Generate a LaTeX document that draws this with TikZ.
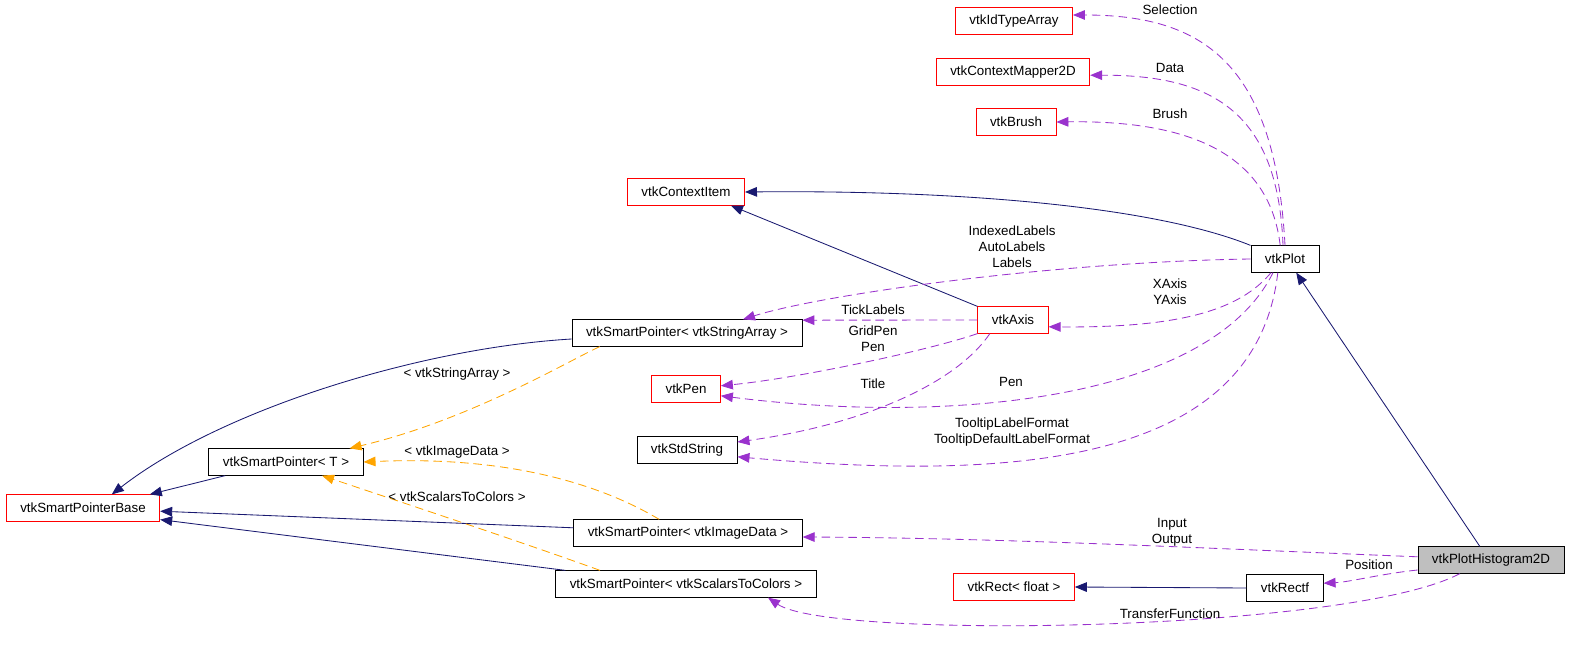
\documentclass[tikz,border=0pt]{standalone}
\usepackage{fontspec}
\setmainfont{Liberation Sans}
\usetikzlibrary{arrows.meta,
	calc}

\definecolor{inhblue}{HTML}{191970}
\definecolor{usepurple}{HTML}{9A32CD}
\definecolor{tmplorange}{HTML}{FFA500}

\begin{document}
\begin{tikzpicture}[x=0.025cm, y=-0.025cm,
	every node/.style={font=\fontsize{9.5}{11.4}\selectfont},
	cls/.style={draw=black, fill=white, line width=0.6pt, inner xsep=0.35cm, minimum height=0.66cm},
	undoc/.style={cls, draw=red},
	current/.style={cls, fill=gray!50},
	lbl/.style={align=center, inner sep=0pt},
	inherit/.style={draw=inhblue, line width=0.6pt, -{Triangle[length=0.3cm,width=0.24cm]}},
	usage/.style={draw=usepurple, line width=0.6pt, dash pattern=on 6pt off 3.5pt, -{Triangle[length=0.3cm,width=0.24cm,fill=usepurple]}},
	templ/.style={draw=tmplorange, line width=0.6pt, dash pattern=on 6pt off 3.5pt, -{Triangle[length=0.3cm,width=0.24cm,fill=tmplorange]}}]
	\useasboundingbox (0,0) rectangle (1571,668);
	% classes
	\node[undoc] (idtype) at (1014,21) {vtkIdTypeArray};
	\node[undoc] (mapper) at (1013,72) {vtkContextMapper2D};
	\node[undoc] (brush) at (1016,122) {vtkBrush};
	\node[undoc] (ctxitem) at (686,192) {vtkContextItem};
	\node[cls] (plot) at (1285,259) {vtkPlot};
	\node[cls] (spstr) at (687,333) {vtkSmartPointer< vtkStringArray >};
	\node[undoc] (axis) at (1013,320) {vtkAxis};
	\node[undoc] (pen) at (686,389) {vtkPen};
	\node[cls] (stdstr) at (687,450) {vtkStdString};
	\node[cls] (spT) at (286,462) {vtkSmartPointer< T >};
	\node[undoc] (spbase) at (83,508) {vtkSmartPointerBase};
	\node[cls] (spimg) at (688,533) {vtkSmartPointer< vtkImageData >};
	\node[cls] (spsc) at (686,584) {vtkSmartPointer< vtkScalarsToColors >};
	\node[undoc] (rectfloat) at (1014,587) {vtkRect< float >};
	\node[cls] (rectf) at (1285,588) {vtkRectf};
	\node[current] (hist) at (1491,560) {vtkPlotHistogram2D};
	% inheritance
	\draw[inherit] (plot.north west) .. controls (1150,205) and (950,190) .. (ctxitem.east);
	\draw[inherit] (axis.north west) -- ([xshift=-0.35cm]ctxitem.south east);
	\draw[inherit] ([xshift=-0.28cm]hist.north) -- ([xshift=0.28cm]plot.south);
	\draw[inherit] (rectf.west) -- (rectfloat.east);
	\draw[inherit] ([yshift=-0.15cm]spstr.west) .. controls (420,348) and (220,410) .. ([xshift=0.72cm]spbase.north);
	\draw[inherit] ([xshift=-1.52cm]spT.south) -- ([xshift=1.67cm]spbase.north);
	\draw[inherit] ([yshift=0.13cm]spimg.west) -- ([yshift=-0.08cm]spbase.east);
	\draw[inherit] ([xshift=0.25cm]spsc.north west) -- ([yshift=0.05cm]spbase.south east);
	% template instances
	\draw[templ] ([xshift=-2.18cm]spstr.south) .. controls (570,360) and (470,420) .. ([xshift=-0.35cm]spT.north east);
	\draw[templ] ([xshift=-0.72cm]spimg.north) .. controls (610,490) and (520,455) .. (spT.east);
	\draw[templ] ([xshift=-2.15cm]spsc.north) .. controls (530,545) and (410,505) .. ([xshift=0.9cm]spT.south);
	\node[lbl] (lstr) at (457,374) {< vtkStringArray >};
	\node[lbl] (limg) at (457,452) {< vtkImageData >};
	\node[lbl] (lsc) at (457,497) {< vtkScalarsToColors >};
	% usage
	\draw[usage] (plot.north) .. controls (1275,60) and (1200,15) .. ([yshift=0.15cm]idtype.east);
	\draw[usage] ([xshift=-0.05cm]plot.north) .. controls (1278,110) and (1210,75) .. ([yshift=-0.08cm]mapper.east);
	\draw[usage] ([xshift=-0.12cm]plot.north) .. controls (1270,160) and (1200,120) .. (brush.east);
	\draw[usage] (plot.west) .. controls (1050,262) and (820,295) .. ([xshift=1.4cm]spstr.north);
	\draw[usage] ([xshift=-0.35cm]plot.south) .. controls (1240,310) and (1180,328) .. ([yshift=-0.17cm]axis.east);
	\draw[usage] ([xshift=-0.3cm]plot.south) .. controls (1210,400) and (950,425) .. ([yshift=-0.17cm]pen.east);
	\draw[usage] ([xshift=-0.18cm]plot.south) .. controls (1255,470) and (1000,480) .. ([yshift=-0.17cm]stdstr.east);
	\draw[usage] (axis.west) -- ([yshift=0.32cm]spstr.east);
	\draw[usage] (axis.south west) .. controls (930,350) and (800,378) .. ([yshift=0.08cm]pen.east);
	\draw[usage] ([xshift=-0.58cm]axis.south) .. controls (955,385) and (860,425) .. ([yshift=0.2cm]stdstr.east);
	\draw[usage] ([yshift=0.08cm]hist.west) .. controls (1200,548) and (1000,538) .. ([yshift=-0.1cm]spimg.east);
	\draw[usage] ([yshift=-0.25cm]hist.west) .. controls (1380,574) and (1350,582) .. ([yshift=0.12cm]rectf.east);
	\draw[usage] ([xshift=-0.78cm]hist.south) .. controls (1350,632) and (830,640) .. ([xshift=2.05cm]spsc.south);
	\node[lbl] (lsel) at (1170,10) {Selection};
	\node[lbl] (ldata) at (1170,68) {Data};
	\node[lbl] (lbrush) at (1170,114) {Brush};
	\node[lbl] (llabels) at (1012,247) {IndexedLabels\\AutoLabels\\Labels};
	\node[lbl] (laxis) at (1170,292) {XAxis\\YAxis};
	\node[lbl] (lpen) at (1011,382) {Pen};
	\node[lbl] (ltip) at (1012,432) {TooltipLabelFormat\\TooltipDefaultLabelFormat};
	\node[lbl] (ltick) at (873,310) {TickLabels};
	\node[lbl] (lgrid) at (873,339) {GridPen\\Pen};
	\node[lbl] (ltitle) at (873,384) {Title};
	\node[lbl] (lio) at (1172,532) {Input\\Output};
	\node[lbl] (lpos) at (1369,565) {Position};
	\node[lbl] (ltf) at (1170,614) {TransferFunction};
\end{tikzpicture}
\end{document}
